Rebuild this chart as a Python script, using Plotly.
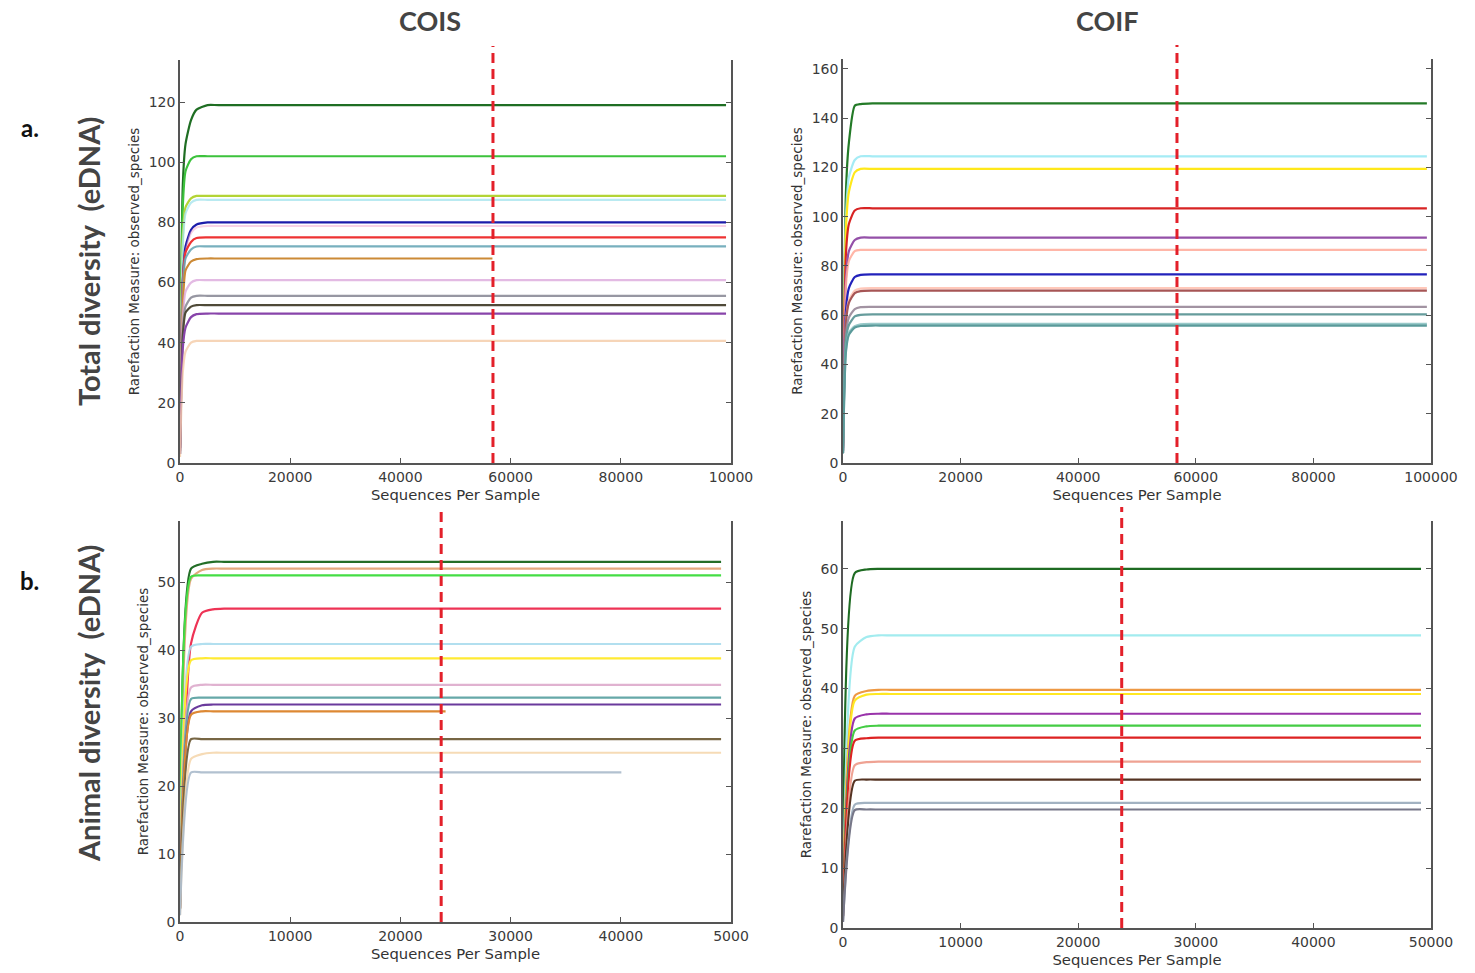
import plotly.graph_objects as go

# ---------------- data ----------------
# rarefaction depths sampled along the steep early part of each curve
EARLY_DEPTH_TOTAL = [0, 500, 1000, 2000, 3000, 5000, 7000]
EARLY_DEPTH_ANIMAL = [0, 1000, 2000, 3000, 4000, 6000]

# COIS, total diversity
COIS_TOTAL_COLORS = ["#1f6e23", "#3cc23c", "#b3d436", "#a8e6ee", "#1c1caa", "#f0a0c8",
                     "#ee3333", "#6aa8b8", "#cc8a36", "#ddaadd", "#8c8c98", "#4f4a38",
                     "#8844aa", "#f5cba7"]
COIS_TOTAL_EARLY = [
    [8, 92, 106, 114, 117.5, 119, 119],
    [8, 85, 97, 101, 102, 102, 102],
    [6, 75, 85, 88, 88.8, 88.8, 88.8],
    [6, 72, 83, 86.5, 87.5, 87.5, 87.5],
    [5, 60, 72, 77.5, 79.3, 80, 80],
    [5, 58, 70, 76.5, 78.3, 78.8, 78.8],
    [5, 60, 70, 73.5, 74.8, 75, 75],
    [5, 58, 68, 71, 72, 72, 72],
    [4, 52, 64, 67, 67.8, 68, 68],
    [4, 48, 57, 60, 60.8, 60.8, 60.8],
    [3, 44, 52, 55, 55.6, 55.6, 55.6],
    [3, 42, 50, 52, 52.5, 52.5, 52.5],
    [3, 38, 45, 48.5, 49.5, 49.7, 49.7],
    [2, 30, 37, 40, 40.6, 40.6, 40.6],
]
COIS_TOTAL_END = [99100, 99100, 99100, 99100, 99100, 99100, 99100, 99100,
                  56700, 99100, 99100, 99100, 99100, 99100]
COIS_TOTAL_OPACITY = [1, 1, 1, 0.8, 1, 0.45, 1, 0.9, 1, 0.8, 0.9, 1, 1, 0.8]

# COIF, total diversity
COIF_TOTAL_COLORS = ["#237a27", "#9ceaf5", "#ffe81a", "#d82424", "#9450a8", "#ffaa99",
                     "#2222bb", "#ffbbaa", "#a65555", "#998899", "#669c9c", "#7fbcbc",
                     "#5a9a9a"]
COIF_TOTAL_EARLY = [
    [10, 110, 130, 145, 145.7, 146, 146],
    [8, 100, 116, 123, 124.5, 124.5, 124.5],
    [8, 95, 110, 118, 119.4, 119.4, 119.4],
    [7, 85, 97, 102.5, 103.4, 103.4, 103.4],
    [6, 75, 86, 90.5, 91.5, 91.5, 91.5],
    [6, 72, 82, 86, 86.5, 86.5, 86.5],
    [5, 62, 71, 75.5, 76.4, 76.6, 76.6],
    [5, 58, 66, 70, 70.8, 71, 71],
    [5, 57, 65, 69, 69.8, 70, 70],
    [4, 52, 59, 62.5, 63.3, 63.4, 63.4],
    [4, 50, 56, 59.5, 60.1, 60.3, 60.3],
    [4, 46, 53, 55.5, 56.3, 56.5, 56.5],
    [4, 45, 52, 55, 55.6, 55.8, 55.8],
]
COIF_TOTAL_END = [99300] * 13
COIF_TOTAL_OPACITY = [1, 0.9, 1, 1, 1, 0.85, 1, 0.8, 1, 0.9, 1, 0.8, 1]

# COIS, animal diversity
COIS_ANIMAL_COLORS = ["#236e27", "#e0a070", "#44dd44", "#ee3355", "#aadcee", "#ffea33",
                      "#ddaacc", "#66a8a8", "#6a3a9c", "#dd8833", "#776644", "#f5d3a5",
                      "#aabbcc"]
COIS_ANIMAL_EARLY = [
    [3, 52, 52.7, 53, 53, 53],
    [3, 50.5, 51.8, 52, 52, 52],
    [3, 50.8, 51, 51, 51, 51],
    [2, 41, 45.5, 46, 46.1, 46.1],
    [2, 40.5, 40.9, 40.9, 40.9, 40.9],
    [2, 38.5, 38.8, 38.8, 38.8, 38.8],
    [2, 34.5, 34.9, 34.9, 34.9, 34.9],
    [2, 32.8, 33, 33, 33, 33],
    [2, 31, 31.9, 32, 32, 32],
    [2, 30.5, 31, 31, 31, 31],
    [2, 26.9, 26.9, 26.9, 26.9, 26.9],
    [1, 24, 24.7, 24.9, 24.9, 24.9],
    [1, 22, 22, 22, 22, 22],
]
COIS_ANIMAL_END = [49100, 49100, 49100, 49100, 49100, 49100, 49100, 49100,
                   49100, 24100, 49100, 49100, 40050]
COIS_ANIMAL_OPACITY = [1, 0.9, 1, 1, 0.9, 1, 0.9, 1, 1, 1, 1, 0.8, 0.9]

# COIF, animal diversity
COIF_ANIMAL_COLORS = ["#1e6b22", "#99eaee", "#ee9944", "#ffe822", "#9933aa", "#44cc44",
                      "#dd2222", "#ee9988", "#553322", "#99aabb", "#777788"]
COIF_ANIMAL_EARLY = [
    [5, 59.3, 59.9, 60, 60, 60],
    [4, 47, 48.6, 48.9, 48.9, 48.9],
    [3, 38.8, 39.6, 39.8, 39.8, 39.8],
    [3, 38, 39, 39.1, 39.1, 39.1],
    [3, 35, 35.7, 35.8, 35.8, 35.8],
    [3, 33, 33.7, 33.8, 33.8, 33.8],
    [2, 31.3, 31.7, 31.8, 31.8, 31.8],
    [2, 27.2, 27.7, 27.8, 27.8, 27.8],
    [2, 24.6, 24.8, 24.8, 24.8, 24.8],
    [1, 20.6, 20.9, 20.9, 20.9, 20.9],
    [1, 19.7, 19.8, 19.8, 19.8, 19.8],
]
COIF_ANIMAL_END = [49150] * 11
COIF_ANIMAL_OPACITY = [1, 0.9, 1, 1, 1, 1, 1, 0.9, 1, 0.9, 1]

# rarefaction cut-off depths (red dashed lines)
CUTOFF_TOTAL = 56800
CUTOFF_ANIMAL = 23700

# axis tick labels
X_TICKS_TOTAL = [0, 20000, 40000, 60000, 80000, 100000]
X_TICKTEXT_TOTAL_COIS = ["0", "20000", "40000", "60000", "80000", "10000"]
X_TICKTEXT_TOTAL_COIF = ["0", "20000", "40000", "60000", "80000", "100000"]
X_TICKS_ANIMAL = [0, 10000, 20000, 30000, 40000, 50000]
X_TICKTEXT_ANIMAL_COIS = ["0", "10000", "20000", "30000", "40000", "5000"]
X_TICKTEXT_ANIMAL_COIF = ["0", "10000", "20000", "30000", "40000", "50000"]

W, H = 1475, 973


def px_x(p):
    return p / W


def px_y(p):
    return 1 - p / H


fig = go.Figure()

panels = [
    ("", COIS_TOTAL_COLORS, COIS_TOTAL_EARLY, COIS_TOTAL_END, COIS_TOTAL_OPACITY, EARLY_DEPTH_TOTAL,
     (180, 731), (60, 463), 134, 20, X_TICKS_TOTAL, X_TICKTEXT_TOTAL_COIS, 100000, CUTOFF_TOTAL),
    ("2", COIF_TOTAL_COLORS, COIF_TOTAL_EARLY, COIF_TOTAL_END, COIF_TOTAL_OPACITY, EARLY_DEPTH_TOTAL,
     (843, 1431), (59, 463), 164, 20, X_TICKS_TOTAL, X_TICKTEXT_TOTAL_COIF, 100000, CUTOFF_TOTAL),
    ("3", COIS_ANIMAL_COLORS, COIS_ANIMAL_EARLY, COIS_ANIMAL_END, COIS_ANIMAL_OPACITY, EARLY_DEPTH_ANIMAL,
     (180, 731), (521, 922), 59, 10, X_TICKS_ANIMAL, X_TICKTEXT_ANIMAL_COIS, 50000, CUTOFF_ANIMAL),
    ("4", COIF_ANIMAL_COLORS, COIF_ANIMAL_EARLY, COIF_ANIMAL_END, COIF_ANIMAL_OPACITY, EARLY_DEPTH_ANIMAL,
     (843, 1431), (521, 928), 68, 10, X_TICKS_ANIMAL, X_TICKTEXT_ANIMAL_COIF, 50000, CUTOFF_ANIMAL),
]

axis_font = dict(family="DejaVu Sans", size=14, color="#3a3a3a")
title_font = dict(family="DejaVu Sans", size=14.8, color="#333333")
ylab_font = dict(family="DejaVu Sans", size=13.5, color="#333333")

for (suf, colors, early, ends, opac, depths, xd, yd, ymax, ydt, xt, xtt, xmax, cut) in panels:
    xa = "x" + suf
    ya = "y" + suf
    for col, ys, end, op in zip(colors, early, ends, opac):
        xs = list(depths) + [end]
        yy = list(ys) + [ys[-1]]
        fig.add_trace(go.Scatter(
            x=xs, y=yy, mode="lines", xaxis=xa, yaxis=ya,
            line=dict(color=col, width=2.2, shape="spline", smoothing=0.6),
            opacity=op, showlegend=False, hoverinfo="skip"))

    # rarefaction cut-off
    fig.add_shape(type="line", xref=xa, yref="paper",
                  x0=cut, x1=cut, y0=px_y(yd[1]), y1=px_y(yd[0] - 14),
                  line=dict(color="#e3202a", width=3, dash="10px,6px"))

    fig.layout["xaxis" + suf] = dict(
        domain=[px_x(xd[0]), px_x(xd[1])], range=[0, xmax], anchor=ya, automargin=False,
        showgrid=False, zeroline=False, showline=True, linecolor="#555555", linewidth=1.5,
        ticks="inside", ticklen=5, tickcolor="#555555", tickvals=xt, ticktext=xtt,
        tickfont=axis_font,
        title=dict(text="Sequences Per Sample", font=title_font, standoff=6),
    )
    fig.layout["yaxis" + suf] = dict(
        domain=[px_y(yd[1]), px_y(yd[0])], range=[0, ymax], anchor=xa, automargin=False,
        showgrid=False, zeroline=False, showline=True, linecolor="#555555", linewidth=1.5,
        mirror="ticks", ticks="inside", ticklen=5, tickcolor="#555555",
        tick0=0, dtick=ydt, tickfont=axis_font,
        title=dict(text="Rarefaction Measure: observed_species", font=ylab_font, standoff=6),
    )

big = dict(family="Lato", size=27, color="#444444")
side = dict(family="Lato", size=29, color="#444444")
annotations = [
    dict(text="<b>COIS</b>", x=px_x(430), y=px_y(20), font=big),
    dict(text="<b>COIF</b>", x=px_x(1107), y=px_y(20), font=big),
    dict(text="<b>Total diversity  (eDNA)</b>", x=px_x(88), y=px_y(262), font=side, textangle=-90),
    dict(text="<b>Animal diversity  (eDNA)</b>", x=px_x(88), y=px_y(704), font=side, textangle=-90),
    dict(text="<b>a.</b>", x=px_x(30), y=px_y(128), font=dict(family="Lato", size=24, color="#111111")),
    dict(text="<b>b.</b>", x=px_x(30), y=px_y(580), font=dict(family="Lato", size=24, color="#111111")),
]
for a in annotations:
    a.update(xref="paper", yref="paper", showarrow=False, xanchor="center", yanchor="middle")
fig.update_layout(annotations=annotations)

fig.update_layout(
    width=W, height=H, margin=dict(l=0, r=0, t=0, b=0, pad=0, autoexpand=False),
    paper_bgcolor="white", plot_bgcolor="white", showlegend=False,
)

fig.write_html("out.html")
